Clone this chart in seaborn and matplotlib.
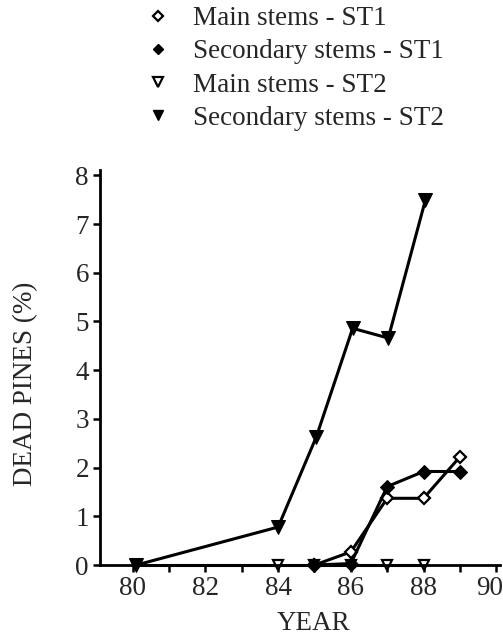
import numpy as np
import pandas as pd
import seaborn as sns
import matplotlib.pyplot as plt
from matplotlib.lines import Line2D
from matplotlib.transforms import ScaledTranslation

# values (year, % dead pines)
years_main_st1 = [85, 86, 87, 88, 89]
main_st1 = [0.0, 0.27, 1.37, 1.37, 2.22]

years_sec_st1 = [85, 86, 87, 88, 89]
sec_st1 = [0.0, 0.03, 1.61, 1.92, 1.92]

years_main_st2 = [80.1, 84, 85, 86, 87, 88]
main_st2 = [0.0, 0.0, 0.0, 0.0, 0.0, 0.0]

years_sec_st2 = [80.1, 84, 85.05, 86.05, 87.03, 88.05]
sec_st2 = [0.0, 0.78, 2.63, 4.86, 4.66, 7.49]

labels = ["Main stems - ST1", "Secondary stems - ST1",
          "Main stems - ST2", "Secondary stems - ST2"]

sns.set_style("ticks")
plt.rcParams['font.family'] = ['Liberation Serif', 'DejaVu Serif']
plt.rcParams['font.size'] = 19.5

fig = plt.figure(figsize=(5.03, 6.35), dpi=100)
ax = fig.add_axes([0.1988, 0.1102, 0.795, 0.6213])

lw = 2.2
sns.lineplot(x=years_main_st2, y=main_st2, ax=ax, color='black', lw=lw,
             marker='v', markersize=7, markerfacecolor='white',
             markeredgecolor='black', markeredgewidth=1.6, clip_on=False)
sns.lineplot(x=years_main_st1, y=main_st1, ax=ax, color='black', lw=lw,
             marker='D', markersize=6.5, markerfacecolor='white',
             markeredgecolor='black', markeredgewidth=1.6, clip_on=False)
sns.lineplot(x=years_sec_st1, y=sec_st1, ax=ax, color='black', lw=lw,
             marker='D', markersize=7, markerfacecolor='black',
             markeredgecolor='black', clip_on=False)
sns.lineplot(x=years_sec_st2, y=sec_st2, ax=ax, color='black', lw=lw,
             marker='v', markersize=10, markerfacecolor='black',
             markeredgecolor='black', clip_on=False)

ax.set_xlim(79.1, 90.1)
ax.set_ylim(0, 8.1)
ax.set_xticks(np.arange(80, 91, 2))
ax.set_xticks(np.arange(81, 90, 2), minor=True)
ax.set_yticks(np.arange(0, 9, 1))
ax.tick_params(which='both', direction='out', length=5, width=1.8,
               color='black', labelsize=19.5, pad=3)

for side in ['top', 'right']:
    ax.spines[side].set_visible(False)
for side in ['left', 'bottom']:
    ax.spines[side].set_linewidth(2.0)
    ax.spines[side].set_color('black')

ax.set_xlabel("YEAR", fontsize=19.5)
ax.set_ylabel("DEAD PINES (%)", fontsize=19.5)
ax.xaxis.set_label_coords(0.535, -0.117)
ax.yaxis.set_label_coords(-0.155, 0.46)

handles = [
    Line2D([], [], ls='none', marker='D', ms=5.5, mfc='white', mec='black', mew=1.6),
    Line2D([], [], ls='none', marker='D', ms=5, mfc='black', mec='black'),
    Line2D([], [], ls='none', marker='v', ms=7, mfc='white', mec='black', mew=1.6),
    Line2D([], [], ls='none', marker='v', ms=7, mfc='black', mec='black'),
]
fig.legend(handles, labels, loc='upper left', bbox_to_anchor=(0.292, 0.99),
           frameon=False, handlelength=0.8, handletextpad=0.9,
           labelspacing=0.3, borderpad=0, borderaxespad=0, fontsize=19.5)

# the last year label sits a little left of its tick so it fits the page
fig.canvas.draw()
last = ax.get_xticklabels()[-1]
last.set_transform(last.get_transform() + ScaledTranslation(-0.07, 0, fig.dpi_scale_trans))

fig.savefig("out.png", dpi=100)
